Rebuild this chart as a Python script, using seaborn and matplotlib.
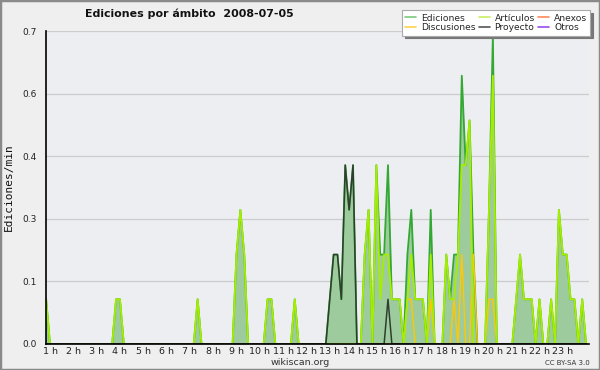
import numpy as np
import pandas as pd
import matplotlib
matplotlib.use("Agg")
import matplotlib.pyplot as plt
import seaborn as sns
from matplotlib.lines import Line2D
from matplotlib.ticker import FixedLocator, MultipleLocator

# ---- data: edits per minute, 10-minute bins (bin k = k*10 minutes) ----
N_BINS = 145
ediciones_pts = {5: 0.1, 23: 0.1, 24: 0.1, 44: 0.1, 54: 0.2, 55: 0.3, 56: 0.2,
                 62: 0.1, 63: 0.1, 69: 0.1,
                 78: 0.1, 79: 0.2, 80: 0.2, 81: 0.1, 82: 0.4, 83: 0.3, 84: 0.4,
                 87: 0.2, 88: 0.3, 90: 0.4, 91: 0.2, 92: 0.2, 93: 0.4, 94: 0.1,
                 95: 0.1, 96: 0.1, 98: 0.2, 99: 0.3, 100: 0.1, 101: 0.1, 102: 0.1,
                 104: 0.3, 108: 0.2, 109: 0.1, 110: 0.2, 111: 0.2, 112: 0.6,
                 113: 0.4, 114: 0.5, 115: 0.2, 119: 0.3, 120: 0.69,
                 126: 0.1, 127: 0.2, 128: 0.1, 129: 0.1, 130: 0.1, 132: 0.1,
                 135: 0.1, 137: 0.3, 138: 0.2, 139: 0.2, 140: 0.1, 141: 0.1, 143: 0.1}
articulos_pts = {5: 0.1, 23: 0.1, 24: 0.1, 44: 0.1, 54: 0.2, 55: 0.3, 56: 0.2,
                 62: 0.1, 63: 0.1, 69: 0.1,
                 87: 0.2, 88: 0.3, 90: 0.4, 91: 0.1, 92: 0.2, 93: 0.2, 94: 0.1,
                 95: 0.1, 96: 0.1, 98: 0.1, 99: 0.2, 100: 0.1, 101: 0.1, 102: 0.1,
                 104: 0.2, 108: 0.2, 109: 0.1, 110: 0.1, 111: 0.2, 112: 0.4,
                 113: 0.4, 114: 0.5, 119: 0.3, 120: 0.6,
                 126: 0.1, 127: 0.2, 128: 0.1, 129: 0.1, 130: 0.1, 132: 0.1,
                 135: 0.1, 137: 0.3, 138: 0.2, 139: 0.2, 140: 0.1, 141: 0.1, 143: 0.1}
discusiones_pts = {98: 0.1, 99: 0.1, 104: 0.1, 110: 0.1, 112: 0.2, 115: 0.2,
                   119: 0.1, 120: 0.1}
proyecto_pts = {78: 0.1, 79: 0.2, 80: 0.2, 81: 0.1, 82: 0.4, 83: 0.3, 84: 0.4, 93: 0.1}
anexos_pts = {}
otros_pts = {}

hour_labels = [f"{h} h" for h in range(1, 24)]
y_ticks = [0.0, 0.14, 0.28, 0.42, 0.56, 0.70]
y_tick_labels = ["0.0", "0.1", "0.3", "0.4", "0.6", "0.7"]

series_names = ["Ediciones", "Artículos", "Anexos", "Discusiones", "Proyecto", "Otros"]
series_pts = [ediciones_pts, articulos_pts, anexos_pts, discusiones_pts, proyecto_pts, otros_pts]
colors = {"Ediciones": "#33a833", "Artículos": "#a6ee00", "Anexos": "#ff7f40",
          "Discusiones": "#ffc800", "Proyecto": "#2f3f2f", "Otros": "#8a3ff0"}
legend_colors = {"Ediciones": "#7ccc7c", "Artículos": "#c8f060", "Anexos": "#ff8a5a",
                 "Discusiones": "#ffd24a", "Proyecto": "#555555", "Otros": "#9a4cee"}

bins = np.arange(N_BINS)
frames = []
for name, pts in zip(series_names, series_pts):
    vals = np.zeros(N_BINS)
    for k, v in pts.items():
        vals[k] = v
    frames.append(pd.DataFrame({"bin": bins, "value": vals, "serie": name}))
df = pd.concat(frames, ignore_index=True)

# ---- figure ----
sns.set_theme(style="white")
plt.rcParams["font.family"] = ["DejaVu Sans"]
fig = plt.figure(figsize=(6.0, 3.7), dpi=100, facecolor="#efefef")
ax = fig.add_axes([0.0767, 0.0703, 0.905, 0.8459])
ax.set_facecolor("#eceef1")

ed = df[df.serie == "Ediciones"]
ax.fill_between(ed["bin"], ed["value"], 0, color="#9ecb9e", lw=0, zorder=1)

draw_order = ["Ediciones", "Anexos", "Otros", "Discusiones", "Artículos", "Proyecto"]
widths = {"Ediciones": 1.3, "Artículos": 1.3, "Anexos": 1.0, "Discusiones": 1.0,
          "Proyecto": 1.1, "Otros": 1.0}
for i, name in enumerate(draw_order):
    sub = df[df.serie == name]
    sns.lineplot(data=sub, x="bin", y="value", ax=ax, color=colors[name],
                 lw=widths[name], zorder=2 + i, legend=False)

ax.set_xlim(4.97, 144.75)
ax.set_ylim(0, 0.7)
ax.set_xlabel("")
ax.set_ylabel("Ediciones/min", family="DejaVu Sans Mono", fontsize=8, color="#111111", labelpad=6)

ax.xaxis.set_major_locator(FixedLocator([6 * h for h in range(1, 24)]))
ax.set_xticklabels(hour_labels, fontsize=6.8, color="#222222")
ax.xaxis.set_minor_locator(MultipleLocator(1))
ax.yaxis.set_major_locator(FixedLocator(y_ticks))
ax.set_yticklabels(y_tick_labels, fontsize=6.5, color="#222222")
ax.yaxis.set_minor_locator(MultipleLocator(0.07))
ax.tick_params(axis="x", which="major", direction="out", length=3, width=1, pad=-0.5, color="black")
ax.tick_params(axis="x", which="minor", direction="out", length=3, width=1, color="black")
ax.tick_params(axis="y", which="major", direction="out", length=6, width=1, pad=1, color="black")
ax.tick_params(axis="y", which="minor", direction="out", length=3, width=1, color="black")
ax.grid(axis="y", which="major", color="#cccccc", lw=0.9, zorder=0)
ax.set_axisbelow(True)
for s in ["top", "right"]:
    ax.spines[s].set_visible(False)
for s in ["left", "bottom"]:
    ax.spines[s].set_color("black")
    ax.spines[s].set_linewidth(1.2)
    ax.spines[s].set_zorder(20)

fig.text(0.142, 0.963, "Ediciones por ámbito  2008-07-05", fontsize=7.9,
         fontweight="bold", color="#111111", va="center", ha="left")
fig.text(0.5, 0.019, "wikiscan.org", fontsize=6.8, color="#333333", ha="center", va="center")
fig.text(0.983, 0.019, "CC BY-SA 3.0", fontsize=5, color="#333333", ha="right", va="center")

legend_order = ["Ediciones", "Discusiones", "Artículos", "Proyecto", "Anexos", "Otros"]
handles = [Line2D([0], [0], color=legend_colors[n], lw=1.2) for n in legend_order]
leg = fig.legend(handles, legend_order, ncol=3, loc="upper right",
                 bbox_to_anchor=(0.984, 0.972), fontsize=6.6, frameon=True,
                 fancybox=False, shadow={"color": "#777777", "alpha": 1.0},
                 handlelength=1.2, handletextpad=0.5, columnspacing=0.4,
                 labelspacing=0.1, borderpad=0.35, borderaxespad=0)
leg.get_frame().set_facecolor("white")
leg.get_frame().set_edgecolor("#aaaaaa")
leg.get_frame().set_linewidth(0.8)
leg.set_zorder(30)

# outer border
fig.patches.append(plt.Rectangle((0, 0), 1, 1, transform=fig.transFigure, fill=False,
                                 edgecolor="#8a8a8a", lw=2.5))

fig.savefig("out.png", dpi=100, facecolor=fig.get_facecolor())
